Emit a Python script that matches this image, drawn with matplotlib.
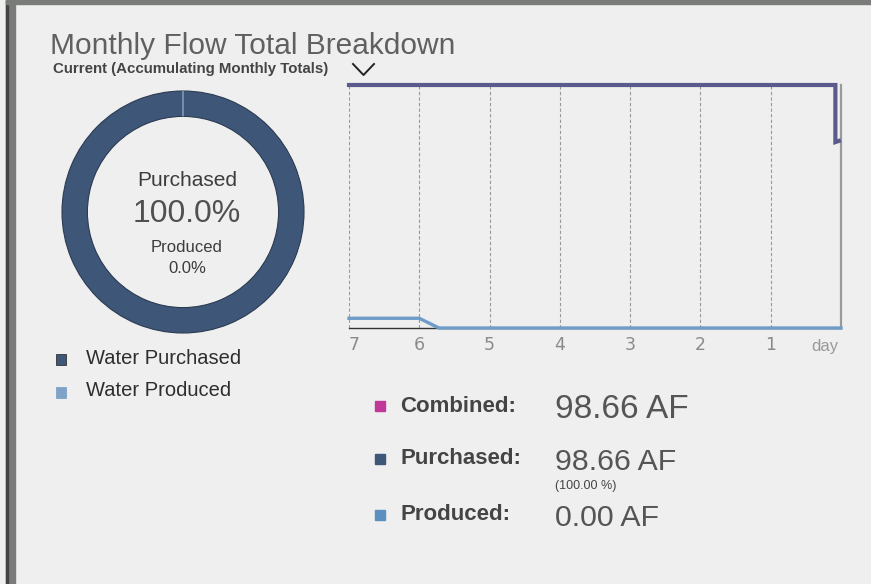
import matplotlib.pyplot as plt
from matplotlib.patches import Rectangle
from matplotlib.lines import Line2D

# ---- data ----
shares = [98.66, 0.00]            # purchased, produced (AF)
share_labels = ['Water Purchased', 'Water Produced']
share_colors = ['#3e5678', '#7fa3c6']

purch_days = [7, 6, 5, 4, 3, 2, 1, 0.08, 0.08, 0.03]
purch_vals = [100, 100, 100, 100, 100, 100, 100, 100, 76.5, 77]
prod_days = [7, 6, 5.72, 5, 4, 3, 2, 1, 0.0]
prod_vals = [4, 4, 0, 0, 0, 0, 0, 0, 0]
day_ticks = [7, 6, 5, 4, 3, 2, 1]

stat_names = ['Combined:', 'Purchased:', 'Produced:']
stat_values = ['98.66 AF', '98.66 AF', '0.00 AF']
stat_colors = ['#c0399a', '#3e5678', '#5b8fc0']

bg = '#efefef'
sans = ['Liberation Sans', 'DejaVu Sans']

fig = plt.figure(figsize=(8.71, 5.84), dpi=100)
fig.patch.set_facecolor(bg)

# frame strips on the left and top
fig.add_artist(Rectangle((6 / 871, 0), 9 / 871, 1, transform=fig.transFigure,
                         color='#7a7c7a', zorder=0))
fig.add_artist(Rectangle((6 / 871, 0), 2 / 871, 1, transform=fig.transFigure,
                         color='#444444', zorder=0))
fig.add_artist(Rectangle((6 / 871, 1 - 4 / 584), 1, 4 / 584, transform=fig.transFigure,
                         color='#7a7c7a', zorder=0))

# title
fig.text(50 / 871, 1 - 46 / 584, 'Monthly Flow Total Breakdown', family=sans,
         fontsize=21.5, color='#606060', va='center', ha='left')
fig.text(53 / 871, 1 - 69 / 584, 'Current (Accumulating Monthly Totals)', family=sans,
         fontsize=10.8, fontweight='bold', color='#444444', va='center', ha='left')
fig.add_artist(Line2D([353 / 871, 363.5 / 871, 374 / 871],
                      [1 - 64 / 584, 1 - 75 / 584, 1 - 64 / 584],
                      transform=fig.transFigure, color='#222222', lw=1.4))

# ---- donut ----
axd = fig.add_axes([62 / 871, 1 - 333 / 584, 242 / 871, 242 / 584])
axd.set_facecolor(bg)
wedges, _ = axd.pie(shares, colors=share_colors, startangle=90, counterclock=False,
                    radius=1, wedgeprops=dict(width=0.21, linewidth=0.8))
wedges[0].set_edgecolor('#2c3b52')
wedges[1].set_edgecolor('#9dbbd8')
axd.set_xlim(-1.0, 1.0)
axd.set_ylim(-1.0, 1.0)
axd.set_aspect('equal')
axd.axis('off')

total = sum(shares)
cx = 187 / 871
fig.text(cx, 1 - 180 / 584, 'Purchased', family=sans, fontsize=15, color='#3c3c3c',
         ha='center', va='center')
fig.text(cx, 1 - 214 / 584, f'{shares[0] / total * 100:.1f}%', family=sans, fontsize=23,
         color='#505050', ha='center', va='center')
fig.text(cx, 1 - 247 / 584, 'Produced', family=sans, fontsize=12, color='#3c3c3c',
         ha='center', va='center')
fig.text(cx, 1 - 268 / 584, f'{shares[1] / total * 100:.1f}%', family=sans, fontsize=12,
         color='#3c3c3c', ha='center', va='center')

# legend below donut
for i, (lab, col) in enumerate(zip(share_labels, share_colors)):
    y = 1 - (359 + i * 33) / 584
    fig.add_artist(Rectangle((56 / 871, y - 5.5 / 584), 10 / 871, 11 / 584,
                             transform=fig.transFigure, facecolor=col,
                             edgecolor='#333333' if i == 0 else col, lw=0.6))
    fig.text(86 / 871, y + 1 / 584, lab, family=sans, fontsize=14.5, color='#2e2e2e',
             ha='left', va='center')

# ---- line chart ----
ax = fig.add_axes([349 / 871, 1 - 328 / 584, 492 / 871, 243 / 584])
ax.set_facecolor(bg)
ax.plot(purch_days, purch_vals, color='#5a5a8c', lw=3, solid_joinstyle='miter',
        zorder=4, clip_on=False)
ax.plot(prod_days, prod_vals, color='#6f9cc8', lw=2.4, zorder=4, clip_on=False)
ax.set_xlim(7, 0)
ax.set_ylim(0, 100)
ax.set_xticks(day_ticks)
ax.set_xticklabels([str(d) for d in day_ticks])
ax.set_yticks([])
ax.tick_params(axis='x', length=0, pad=6, labelsize=12.5, labelcolor='#8a8a8a')
ax.xaxis.get_majorticklabels()[0].set_horizontalalignment('left')
for d in day_ticks:
    ax.axvline(d, color='#999999', lw=0.8, ls=(0, (3, 2)), zorder=1)
for s in ['left', 'top']:
    ax.spines[s].set_visible(False)
ax.spines['bottom'].set_color('#333333')
ax.spines['bottom'].set_linewidth(1.0)
ax.spines['right'].set_color('#9a9a9a')
ax.spines['right'].set_linewidth(1.6)
fig.text(825 / 871, 1 - 346 / 584, 'day', family=sans, fontsize=12, color='#999999',
         ha='center', va='center')

# ---- stats ----
rows_y = [406, 459, 515]
val_sizes = [24, 21.8, 21.8]
for name, val, col, yy, vs in zip(stat_names, stat_values, stat_colors, rows_y, val_sizes):
    y = 1 - yy / 584
    fig.add_artist(Rectangle((375 / 871, y - 5 / 584), 10 / 871, 10 / 584,
                             transform=fig.transFigure, color=col))
    fig.text(400 / 871, y, name, family=sans, fontsize=16, fontweight='bold',
             color='#444444', ha='left', va='center')
    fig.text(555 / 871, y - 3 / 584, val, family=sans, fontsize=vs, color='#555555',
             ha='left', va='center')
fig.text(555 / 871, 1 - 486 / 584, f'({shares[0] / total * 100:.2f} %)', family=sans,
         fontsize=9, color='#444444', ha='left', va='center')

fig.savefig('out.png', dpi=100, facecolor=bg)
